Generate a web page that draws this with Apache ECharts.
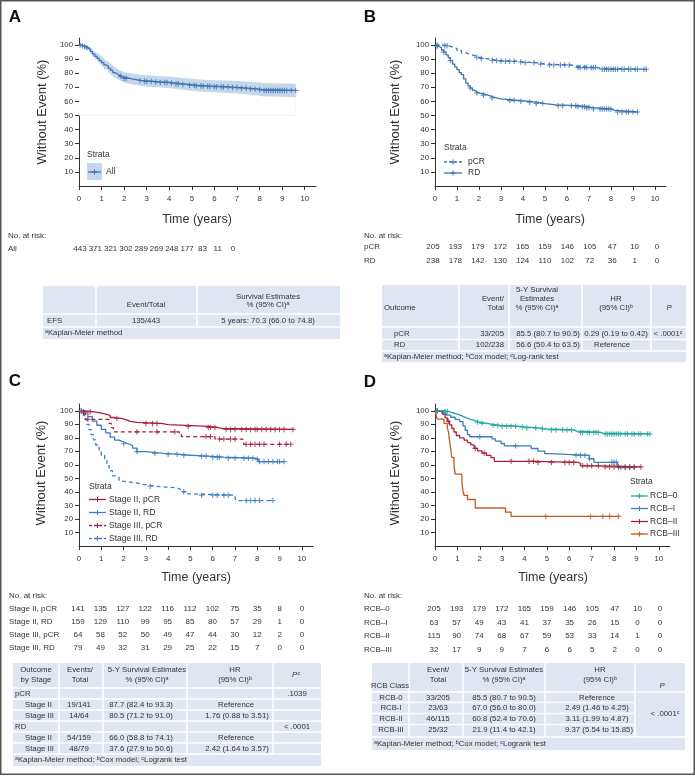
<!DOCTYPE html>
<html><head><meta charset="utf-8">
<script src="https://cdn.jsdelivr.net/npm/echarts@6/dist/echarts.min.js"></script>
<style>html,body{margin:0;padding:0;background:#fff}#c{width:695px;height:776px}</style>
</head><body><div id="c"></div><script>
// ---------- axis ticks ----------
const xTicks = [0,1,2,3,4,5,6,7,8,9,10];
const yTicks = [10,20,30,40,50,60,70,80,90,100];

// ---------- Panel A : All ----------
const aTimes = [0,0.1,0.2,0.3,0.4,0.5,0.6,0.7,0.8,0.9,1.0,1.1,1.2,1.3,1.4,1.5,1.6,1.7,1.8,1.9,2.0,2.2,2.4,2.6,2.8,3.0,3.3,3.6,4.0,4.3,4.6,4.9,5.2,5.6,6.0,6.4,6.8,7.2,7.6,8.0,8.1];
const aSurv  = [100,99.5,99,98,97,95.5,93.5,92,90.5,89,87.5,86,85,83.5,82,80.5,79.5,78.5,77.8,77,76.5,75.8,75.3,74.8,74.5,74.2,73.8,73.5,73,72.5,72,71.5,71,70.8,70.5,70.2,69.8,69.3,68.8,68.3,67.8];
const aLow   = [100,99.0,98.2,96.9,95.6,93.7,91.4,89.6,87.9,86.2,84.5,82.9,81.8,80.2,78.6,77.0,75.9,74.9,74.1,73.3,72.7,72.0,71.4,70.9,70.5,70.2,69.8,69.4,68.9,68.3,67.8,67.2,66.7,66.5,66.1,65.8,65.3,64.8,64.2,63.6,63.0];
const aHigh  = [100,100,99.8,99.1,98.4,97.3,95.6,94.4,93.1,91.8,90.5,89.1,88.2,86.8,85.4,84.0,83.1,82.1,81.5,80.7,80.3,79.6,79.2,78.7,78.5,78.2,77.8,77.6,77.1,76.7,76.2,75.8,75.3,75.1,74.9,74.6,74.3,73.8,73.4,73.0,72.6];
const aCensor = [0.05,0.15,0.25,0.35,1.85,2.0,2.1,2.7,2.9,3.0,3.2,3.4,3.6,3.8,3.9,4.1,4.3,4.4,4.6,4.9,5.1,5.2,5.4,5.5,5.7,5.8,6.0,6.1,6.3,6.4,6.6,6.8,7.0,7.2,7.4,7.6,7.8,8.0,8.2,8.3,8.4,8.5,8.6,8.7,8.8,8.9,9.0,9.1,9.2,9.4,9.6];
const riskAll = [443,371,321,302,289,269,248,177,83,11,0];

// ---------- Panel B : pCR / RD ----------
const bPcrTimes = [0,0.35,0.6,0.8,1.0,1.2,1.4,1.6,1.8,2.0,2.3,2.6,2.9,3.7,4.0,4.6,5.0,6.2,6.35,7.4,7.5];
const bPcrSurv  = [100,99.5,98.5,97.5,96,94.5,93.5,92.5,91.3,90.5,89.8,89.0,88.5,88,87.5,86.5,85.8,85,84,83.5,82.8];
const bPcrCensor = [0.1,0.45,0.55,1.9,2.1,2.6,2.8,3.0,3.2,3.4,3.6,3.9,4.1,4.5,4.8,5.2,5.4,5.7,5.9,6.1,6.5,6.6,6.8,6.9,7.1,7.2,7.3,7.6,7.7,7.8,7.9,8.0,8.1,8.2,8.3,8.5,8.6,8.8,8.9,9.1,9.2,9.5,9.6];
const bRdTimes = [0,0.1,0.2,0.3,0.4,0.5,0.6,0.7,0.8,0.9,1.0,1.1,1.2,1.3,1.4,1.5,1.6,1.7,1.8,1.9,2.0,2.2,2.4,2.6,2.8,3.0,3.4,3.9,4.3,4.6,5.0,5.5,6.5,6.9,7.2,8.05,8.15];
const bRdSurv  = [100,99,98,96.5,95,93,91,89,86.5,84.5,82.5,80.5,79,76,73,71,69.5,68,66.8,66,65.3,64.5,63.5,62.5,61.8,61.3,60.6,60.1,59.5,58.5,57.5,57,56.3,55.6,54.6,53.6,52.5];
const bRdCensor = [0.1,0.4,0.7,1.6,1.9,2.2,2.6,3.4,3.6,3.9,4.3,4.6,4.9,5.6,5.8,6.2,6.4,6.5,6.7,6.8,6.9,7.0,7.2,7.5,7.6,7.7,7.8,7.9,8.0,8.3,8.5,8.7,8.8,9.0,9.2];
const riskBpCR = [205,193,179,172,165,159,146,105,47,10,0];
const riskBRD  = [238,178,142,130,124,110,102,72,36,1,0];

// ---------- Panel C : stage x response ----------
const c2pTimes = [0,0.2,0.6,0.9,1.1,1.4,1.6,1.9,2.1,2.3,2.6,3.7,4.0,5.8,6.2,6.4];
const c2pSurv  = [100,99.3,98.6,97.9,96.5,95,94.3,93.5,92.1,91.4,90.6,89.8,88.4,87.7,86.9,86.2];
const c2pCensor = [0.2,0.5,1.7,3.0,3.3,3.5,4.9,5.8,5.9,6.1,6.6,6.8,7.0,7.3,7.5,7.7,7.9,8.0,8.2,8.4,8.6,8.8,9.0,9.2,9.6];
const c2rTimes = [0,0.2,0.4,0.6,0.8,1.0,1.2,1.4,1.6,1.8,2.0,2.2,2.4,2.6,3.0,3.8,4.5,5.0,5.8,6.5,7.9,8.05];
const c2rSurv  = [100,98.7,95.6,92.4,89.3,86.2,83.6,80.5,78.3,76.9,75.6,74.3,72.4,69.8,68.5,67.8,67.1,66.4,65.7,64.9,64.1,62.4];
const c2rCensor = [0.1,2.0,2.6,3.4,4.0,4.4,4.7,5.5,5.7,6.0,6.2,6.3,6.7,7.0,7.4,7.6,7.8,8.0,8.1,8.3,8.5,8.7,8.9,9.0,9.2];
const c3pTimes = [0,0.15,0.3,1.35,1.45,1.55,4.5,4.6,6.1,7.35,7.4];
const c3pSurv  = [100,98.4,93.7,90.6,87.5,84.4,82.7,80.9,79.1,77.1,75.2];
const c3pCensor = [0.2,0.4,2.6,3.5,4.3,5.7,5.9,6.3,6.5,6.8,7.0,7.5,7.7,7.9,8.1,8.3,9.0,9.3,9.5];
const c3rTimes = [0,0.15,0.25,0.35,0.45,0.55,0.65,0.75,0.9,1.0,1.15,1.25,1.35,1.5,1.7,1.8,1.9,2.5,2.9,3.4,4.4,4.6,4.8,5.0,7.0,7.05];
const c3rSurv  = [100,97.5,93.7,89.9,86.1,82.3,78.5,74.7,70.9,67.1,63.3,59.5,55.7,51.9,50.6,48.1,46.8,45.5,44.2,43.0,41.6,40.1,38.6,37.6,35.6,33.6];
const c3rCensor = [0.1,3.2,4.7,5.5,6.0,6.2,6.5,6.7,7.5,7.7,7.9,8.1,8.7];
const riskC2p = [141,135,127,122,116,112,102,75,35,8,0];
const riskC2r = [159,129,110,99,95,85,80,57,29,1,0];
const riskC3p = [64,58,52,50,49,47,44,30,12,2,0];
const riskC3r = [79,49,32,31,29,25,22,15,7,0,0];

// ---------- Panel D : RCB class ----------
const d0Times = [0,0.35,0.6,0.8,1.0,1.2,1.4,1.6,1.8,2.0,2.3,2.6,2.9,3.7,4.0,4.6,5.0,6.2,6.35,7.4,7.5];
const d0Surv  = [100,99.5,98.5,97.5,96.2,94.8,93.6,92.6,91.5,90.7,89.9,89.2,88.6,88,87.3,86.5,85.8,85,84,83.5,82.8];
const d0Censor = [0.1,0.45,0.55,1.9,2.1,2.6,2.8,3.0,3.2,3.4,3.6,3.9,4.1,4.5,4.8,5.2,5.4,5.7,5.9,6.1,6.5,6.6,6.8,6.9,7.1,7.2,7.3,7.6,7.7,7.8,7.9,8.0,8.1,8.2,8.3,8.5,8.6,8.8,8.9,9.1,9.2,9.5,9.6];
const d1Times = [0,0.3,0.5,0.7,0.9,1.1,1.25,1.35,1.45,1.55,2.55,2.7,2.95,3.1,4.3,4.6,4.9,5.1,6.9,7.1,8.15];
const d1Surv  = [100,98.4,96.8,95.2,93.6,92.0,88.8,85.6,82.4,80.8,79.2,77.6,75.8,74.0,72.1,70.2,68.3,67.0,64.5,61.9,58.0];
const d1Censor = [0.1,2.0,3.6,6.3,6.5,6.7,6.9,7.9,8.0,8.1,8.3,8.5,8.7,8.9];
const d2Times = [0,0.25,0.35,0.45,0.55,0.65,0.75,0.85,0.95,1.1,1.3,1.45,1.6,1.75,1.9,2.1,2.3,2.5,2.65,4.5,6.4,6.5,7.5];
const d2Surv  = [100,99.1,97.4,94.8,92.2,89.6,86.9,84.3,81.7,80.0,78.3,76.5,74.8,72.2,70.4,68.7,67.0,65.3,62.6,61.8,61.0,59.3,58.5];
const d2Censor = [0.1,0.6,1.8,2.2,3.4,4.2,4.4,4.6,5.2,5.8,6.0,6.2,6.6,6.8,7.0,7.3,7.6,7.8,8.0,8.2,8.5,8.7,8.9,9.2];
const d3Times = [0,0.05,0.1,0.4,0.55,0.6,0.65,0.7,0.75,0.85,0.9,1.2,1.25,1.3,1.45,1.8,3.15,3.4];
const d3Surv  = [100,96.9,93.8,90.6,87.5,84.4,78.1,71.9,65.6,59.4,53.1,46.9,40.6,37.5,34.4,28.1,25.0,21.9];
const d3Censor = [4.95,6.95,7.5,7.8,8.2];
const riskD0 = [205,193,179,172,165,159,146,105,47,10,0];
const riskD1 = [63,57,49,43,41,37,35,26,15,0,0];
const riskD2 = [115,90,74,68,67,59,53,33,14,1,0];
const riskD3 = [32,17,9,9,7,6,6,5,2,0,0];

// ---------- styling ----------
const FONT = '"Liberation Sans", Arial, Helvetica, sans-serif';
const TXT = '#333';
const BLUE_AB = '#3b72b3';
const RED = '#a8213a', BLUE = '#3d7cc0', TEAL = '#1fa59d', ORANGE = '#c55a1b';
const CI_FILL = '#c6d7eb';
const TBL = '#dfe6f1';
const PLUS = 'path://M0,2H5V3H0Z M2,0H3V5H2Z';

function stepAt(times, surv, t){ let v = surv[0]; for (let i=0;i<times.length;i++){ if (times[i] <= t) v = surv[i]; } return v; }
function kmSeries(gi, times, surv, censor, color, dashed){
  const end = Math.max(times[times.length-1], ...censor);
  const data = times.map((t,i)=>[t, surv[i]]); data.push([end, surv[surv.length-1]]);
  return [
    {type:'line', xAxisIndex:gi, yAxisIndex:gi, step:'end', data, symbol:'none', silent:true, z:3,
     lineStyle:{color, width:1.3, type: dashed ? [4,3] : 'solid'}},
    {type:'scatter', xAxisIndex:gi, yAxisIndex:gi, data: censor.map(t=>[t, stepAt(times, surv, t)]),
     symbol:PLUS, symbolSize:5.5, itemStyle:{color}, silent:true, z:4}
  ];
}
function xAx(gi){ return {type:'value', gridIndex:gi, min:0, max:10.5, interval:1,
  axisLine:{show:true, onZero:false, lineStyle:{color:'#333', width:1}},
  axisTick:{show:true, length:4, customValues:xTicks, lineStyle:{color:'#333'}},
  axisLabel:{customValues:xTicks, fontSize:7.8, color:TXT, margin:9, fontFamily:FONT},
  splitLine:{show:false}}; }
function yAx(gi){ return {type:'value', gridIndex:gi, min:0, max:105, interval:10,
  axisLine:{show:true, onZero:false, lineStyle:{color:'#333', width:1}},
  axisTick:{show:true, length:4, customValues:yTicks, lineStyle:{color:'#333'}},
  axisLabel:{customValues:yTicks, fontSize:7.8, color:TXT, margin:6, fontFamily:FONT},
  splitLine:{show:false}}; }

// ---------- graphics helpers ----------
const G = [];
function T(x, y, text, o){ o = o || {}; const al = o.align || 'left';
  G.push({type:'text', x, y, z:10, silent:true, rotation:o.rot || 0,
    style:{text, fill:o.color || TXT, fontSize:o.size || 7.8, fontFamily:FONT,
      fontWeight:o.weight || 'normal', fontStyle:o.style || 'normal',
      align:al, textAlign:al, verticalAlign:'middle', textVerticalAlign:'middle'}}); }
function R(x1,y1,x2,y2,fill){ G.push({type:'rect', z:5, silent:true, shape:{x:x1,y:y1,width:x2-x1,height:y2-y1}, style:{fill}}); }
function L(x1,y1,x2,y2,stroke,w,dash){ G.push({type:'line', z:6, silent:true, shape:{x1,y1,x2,y2}, style:{stroke, lineWidth:w||1, lineDash:dash||null}}); }
function P(x,y,color){ L(x-2.5,y,x+2.5,y,color,1); L(x,y-2.5,x,y+2.5,color,1); }
function legendItem(x1,x2,y,color,dashed,label,tx){
  L(x1,y,x2,y,color,1.3,dashed?[3,2]:null);
  P((x1+x2)/2,y,color);
  T(tx,y,label,{size:8.5});
}
function risk(x0, step, y, arr){ arr.forEach((v,i)=>T(x0+i*step, y, String(v), {size:8, align:'center'})); }

// frame
G.push({type:'rect', z:20, silent:true, shape:{x:0.75,y:0.75,width:693.5,height:773.5}, style:{fill:'none', stroke:'#555', lineWidth:1.5}});

// ===== Panel A =====
T(15,17.5,'A',{size:17, weight:'bold', color:'#111', align:'center'});
T(42,112,'Without Event (%)',{size:13, rot:Math.PI/2, align:'center'});
T(197,220,'Time (years)',{size:12.5, align:'center'});
T(87,155,'Strata',{size:8.5});
R(87,163,102,180,CI_FILL);
legendItem(88,101,172,BLUE_AB,false,'All',106);
T(8,236,'No. at risk:',{size:8});
T(8,248.5,'All',{size:8});
risk(80,15.3,248.5,riskAll);
// table A
R(43,286,340,339,TBL);
L(96,286,96,327,'#fff',1.5); L(197,286,197,327,'#fff',1.5);
L(43,314,340,314,'#fff',1.5); L(43,327,340,327,'#fff',1.5);
T(146,305,'Event/Total',{align:'center'});
T(268,296.5,'Survival Estimates',{align:'center'});
T(268,305,'% (95% CI)ᵃ',{align:'center'});
T(47,320.5,'EFS');
T(146,320.5,'135/443',{align:'center'});
T(268,320.5,'5 years: 70.3 (66.0 to 74.8)',{align:'center'});
T(45,333,'ᵃKaplan-Meier method');

// ===== Panel B =====
T(370,17.5,'B',{size:17, weight:'bold', color:'#111', align:'center'});
T(395,112,'Without Event (%)',{size:13, rot:Math.PI/2, align:'center'});
T(550,220,'Time (years)',{size:12.5, align:'center'});
T(444,148,'Strata',{size:8.5});
legendItem(444,462,162,BLUE_AB,true,'pCR',468);
legendItem(444,462,173,BLUE_AB,false,'RD',468);
T(364,236,'No. at risk:',{size:8});
T(364,247,'pCR',{size:8}); T(364,261,'RD',{size:8});
risk(433,22.4,247,riskBpCR); risk(433,22.4,261,riskBRD);
// table B
R(382,285,686,362,TBL);
[459,509,582,651].forEach(x=>L(x,285,x,351,'#fff',1.5));
[327,339.5,351].forEach(y=>L(382,y,686,y,'#fff',1.5));
T(384,308,'Outcome');
T(504,299,'Event/',{align:'right'}); T(504,308,'Total',{align:'right'});
T(537,289.5,'5-Y Survival',{align:'center'}); T(537,299,'Estimates',{align:'center'}); T(537,308,'% (95% CI)ᵃ',{align:'center'});
T(616,299,'HR',{align:'center'}); T(616,308,'(95% CI)ᵇ',{align:'center'});
T(669,308,'P',{align:'center', style:'italic'});
T(394,334,'pCR'); T(504,334,'33/205',{align:'right'});
T(548,334,'85.5 (80.7 to 90.5)',{align:'center'}); T(616,334,'0.29 (0.19 to 0.42)',{align:'center'});
T(668,334,'< .0001ᶜ',{align:'center'});
T(394,345,'RD'); T(504,345,'102/238',{align:'right'});
T(548,345,'56.6 (50.4 to 63.5)',{align:'center'}); T(612,345,'Reference',{align:'center'});
T(384,357,'ᵃKaplan-Meier method; ᵇCox model; ᶜLog-rank test');

// ===== Panel C =====
T(15,381,'C',{size:17, weight:'bold', color:'#111', align:'center'});
T(41,473,'Without Event (%)',{size:13, rot:Math.PI/2, align:'center'});
T(196,578,'Time (years)',{size:12.5, align:'center'});
T(89,487,'Strata',{size:8.5});
legendItem(89,106,499.5,RED,false,'Stage II, pCR',109);
legendItem(89,106,512.5,BLUE,false,'Stage II, RD',109);
legendItem(89,106,525.5,RED,true,'Stage III, pCR',109);
legendItem(89,106,538.5,BLUE,true,'Stage III, RD',109);
T(9,596,'No. at risk:',{size:8});
T(9,609,'Stage II, pCR',{size:8}); T(9,622,'Stage II, RD',{size:8});
T(9,635,'Stage III, pCR',{size:8}); T(9,648,'Stage III, RD',{size:8});
risk(78,22.4,609,riskC2p); risk(78,22.4,622,riskC2r); risk(78,22.4,635,riskC3p); risk(78,22.4,648,riskC3r);
// table C
R(13,663,321,766,TBL);
[59,103,187,273].forEach(x=>L(x,663,x,754,'#fff',1.5));
[688,699,710,721,732,743,754].forEach(y=>L(13,y,321,y,'#fff',1.5));
T(36,670,'Outcome',{align:'center'}); T(36,680,'by Stage',{align:'center'});
T(80,670,'Events/',{align:'center'}); T(80,680,'Total',{align:'center'});
T(147,670,'5-Y Survival Estimates',{align:'center'}); T(147,680,'% (95% CI)ᵃ',{align:'center'});
T(235,670,'HR',{align:'center'}); T(235,680,'(95% CI)ᵇ',{align:'center'});
T(296,675,'Pᶜ',{align:'center', style:'italic'});
T(15,693.5,'pCR'); T(297,693.5,'.1039',{align:'center'});
T(25,704.5,'Stage II'); T(79,704.5,'19/141',{align:'center'}); T(141,704.5,'87.7 (82.4 to 93.3)',{align:'center'}); T(236,704.5,'Reference',{align:'center'});
T(25,715.5,'Stage III'); T(79,715.5,'14/64',{align:'center'}); T(141,715.5,'80.5 (71.2 to 91.0)',{align:'center'}); T(237,715.5,'1.76 (0.88 to 3.51)',{align:'center'});
T(15,726.5,'RD'); T(297,726.5,'< .0001',{align:'center'});
T(25,737.5,'Stage II'); T(79,737.5,'54/159',{align:'center'}); T(141,737.5,'66.0 (58.8 to 74.1)',{align:'center'}); T(236,737.5,'Reference',{align:'center'});
T(25,748.5,'Stage III'); T(79,748.5,'48/79',{align:'center'}); T(141,748.5,'37.6 (27.9 to 50.6)',{align:'center'}); T(237,748.5,'2.42 (1.64 to 3.57)',{align:'center'});
T(15,760,'ᵃKaplan-Meier method; ᵇCox model; ᶜLogrank test');

// ===== Panel D =====
T(370,382,'D',{size:17, weight:'bold', color:'#111', align:'center'});
T(395,473,'Without Event (%)',{size:13, rot:Math.PI/2, align:'center'});
T(553,578,'Time (years)',{size:12.5, align:'center'});
T(630,482,'Strata',{size:8.5});
legendItem(631,648,496,TEAL,false,'RCB–0',650);
legendItem(631,648,508.5,BLUE,false,'RCB–I',650);
legendItem(631,648,521.5,RED,false,'RCB–II',650);
legendItem(631,648,534,ORANGE,false,'RCB–III',650);
T(364,596,'No. at risk:',{size:8});
T(364,609,'RCB–0',{size:8}); T(364,622.5,'RCB–I',{size:8}); T(364,636,'RCB–II',{size:8}); T(364,649.5,'RCB–III',{size:8});
risk(434,22.6,609,riskD0); risk(434,22.6,622.5,riskD1); risk(434,22.6,636,riskD2); risk(434,22.6,649.5,riskD3);
// table D
R(372,663,685,750,TBL);
[409,463,545,635].forEach(x=>L(x,663,x,737,'#fff',1.5));
L(372,692,685,692,'#fff',1.5); L(372,737,685,737,'#fff',1.5);
[702.5,713.5,724.5].forEach(y=>L(372,y,635,y,'#fff',1.5));
T(390,686,'RCB Class',{align:'center'});
T(438,669.5,'Event/',{align:'center'}); T(438,679.5,'Total',{align:'center'});
T(504,669.5,'5-Y Survival Estimates',{align:'center'}); T(504,679.5,'% (95% CI)ᵃ',{align:'center'});
T(600,669.5,'HR',{align:'center'}); T(600,679.5,'(95% CI)ᵇ',{align:'center'});
T(662,686,'P',{align:'center', style:'italic'});
T(391,697.5,'RCB-0',{align:'center'}); T(438,697.5,'33/205',{align:'center'}); T(504,697.5,'85.5 (80.7 to 90.5)',{align:'center'}); T(597,697.5,'Reference',{align:'center'});
T(391,708,'RCB-I',{align:'center'}); T(438,708,'23/63',{align:'center'}); T(504,708,'67.0 (56.0 to 80.0)',{align:'center'}); T(597,708,'2.49 (1.46 to 4.25)',{align:'center'});
T(391,719,'RCB-II',{align:'center'}); T(438,719,'46/115',{align:'center'}); T(504,719,'60.8 (52.4 to 70.6)',{align:'center'}); T(597,719,'3.11 (1.99 to 4.87)',{align:'center'});
T(391,730,'RCB-III',{align:'center'}); T(438,730,'25/32',{align:'center'}); T(504,730,'21.9 (11.4 to 42.1)',{align:'center'}); T(599,730,'9.37 (5.54 to 15.85)',{align:'center'});
T(665,713.5,'< .0001ᶜ',{align:'center'});
T(374,744,'ᵃKaplan-Meier method; ᵇCox model; ᶜLogrank test');

// ---------- series ----------
function ext(times, vals, end){ const d = times.map((t,i)=>[t, vals[i]]); d.push([end, vals[vals.length-1]]); return d; }
const aEnd = Math.max(...aCensor);
const series = [
  {type:'line', xAxisIndex:0, yAxisIndex:0, step:'end', data:ext(aTimes,aHigh,aEnd), symbol:'none', silent:true, z:1,
   lineStyle:{opacity:0}, areaStyle:{color:CI_FILL, opacity:1, origin:50}},
  {type:'line', xAxisIndex:0, yAxisIndex:0, step:'end', data:ext(aTimes,aLow,aEnd), symbol:'none', silent:true, z:2,
   lineStyle:{opacity:0}, areaStyle:{color:'#ffffff', opacity:1, origin:50}},
  ...kmSeries(0, aTimes, aSurv, aCensor, BLUE_AB, false),
  ...kmSeries(1, bPcrTimes, bPcrSurv, bPcrCensor, BLUE_AB, true),
  ...kmSeries(1, bRdTimes, bRdSurv, bRdCensor, BLUE_AB, false),
  ...kmSeries(2, c3rTimes, c3rSurv, c3rCensor, BLUE, true),
  ...kmSeries(2, c2rTimes, c2rSurv, c2rCensor, BLUE, false),
  ...kmSeries(2, c3pTimes, c3pSurv, c3pCensor, RED, true),
  ...kmSeries(2, c2pTimes, c2pSurv, c2pCensor, RED, false),
  ...kmSeries(3, d3Times, d3Surv, d3Censor, ORANGE, false),
  ...kmSeries(3, d1Times, d1Surv, d1Censor, BLUE, false),
  ...kmSeries(3, d2Times, d2Surv, d2Censor, RED, false),
  ...kmSeries(3, d0Times, d0Surv, d0Censor, TEAL, false)
];

const chart = echarts.init(document.getElementById('c'), null, {renderer:'canvas'});
chart.setOption({
  animation:false,
  backgroundColor:'#fff',
  grid:[
    {left:79, top:38, width:237, height:148},
    {left:435, top:38, width:231, height:148},
    {left:79, top:404, width:234, height:142},
    {left:435, top:404, width:235, height:142}
  ],
  xAxis:[xAx(0), xAx(1), xAx(2), xAx(3)],
  yAxis:[yAx(0), yAx(1), yAx(2), yAx(3)],
  series,
  graphic:{elements:G}
});
</script></body></html>
